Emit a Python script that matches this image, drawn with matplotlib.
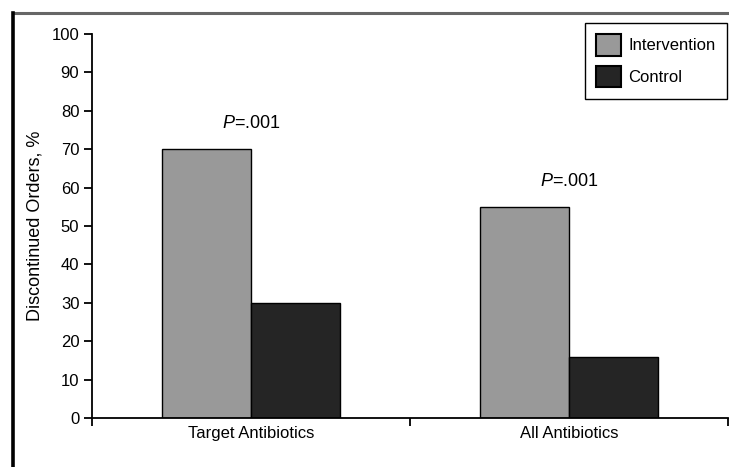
import numpy as np
import matplotlib.pyplot as plt
from matplotlib.lines import Line2D

plt.rcParams['font.family'] = ['Liberation Sans', 'DejaVu Sans']
plt.rcParams['mathtext.fontset'] = 'custom'
plt.rcParams['mathtext.it'] = 'Liberation Sans:italic'
plt.rcParams['mathtext.rm'] = 'Liberation Sans'

categories = ['Target Antibiotics', 'All Antibiotics']
intervention = [70, 55]
control = [30, 16]
p_labels = ['.001', '.001']

fig = plt.figure(figsize=(7.29, 4.67), dpi=100)
ax = fig.add_axes([0.126, 0.105, 0.8725, 0.822])

x = np.arange(len(categories))
w = 0.28
ax.bar(x - w / 2, intervention, w, color='#999999', edgecolor='black', linewidth=1, label='Intervention')
ax.bar(x + w / 2, control, w, color='#252525', edgecolor='black', linewidth=1, label='Control')

for i in range(len(categories)):
    ax.text(x[i], intervention[i] + 4.5, '$\\it{P}$=' + p_labels[i], ha='center', va='bottom', fontsize=13)

ax.set_xlim(-0.5, 1.5)
ax.set_ylim(0, 100)
ax.set_yticks(range(0, 101, 10))
ax.set_xticks(x)
ax.set_xticklabels(categories, fontsize=12)
ax.set_xticks([-0.5, 0.5, 1.5], minor=True)
ax.tick_params(axis='x', which='major', length=0, pad=6)
ax.tick_params(axis='x', which='minor', length=6, width=1.3, direction='out')
ax.tick_params(axis='y', length=6, width=1.3, labelsize=12, pad=3)
ax.set_ylabel('Discontinued Orders, %', fontsize=13, labelpad=6)
ax.spines['top'].set_visible(False)
ax.spines['right'].set_visible(False)
ax.spines['left'].set_linewidth(1.3)
ax.spines['bottom'].set_linewidth(1.3)

leg = ax.legend(loc='upper right', bbox_to_anchor=(0.9985, 1.03), fontsize=12, fancybox=False,
                edgecolor='black', framealpha=1, handlelength=1.45, handleheight=1.6, handletextpad=0.45,
                borderpad=0.7, labelspacing=0.6, borderaxespad=0)
leg.get_frame().set_linewidth(1)
for h in leg.legend_handles:
    h.set_linewidth(1.5)

# outer frame (top and left)
fig.add_artist(Line2D([0.018, 1], [0.972, 0.972], color='#666666', linewidth=2.2, transform=fig.transFigure))
fig.add_artist(Line2D([0.018, 0.018], [0, 0.972], color='black', linewidth=2.6, transform=fig.transFigure))

fig.savefig('out.png', dpi=100)
